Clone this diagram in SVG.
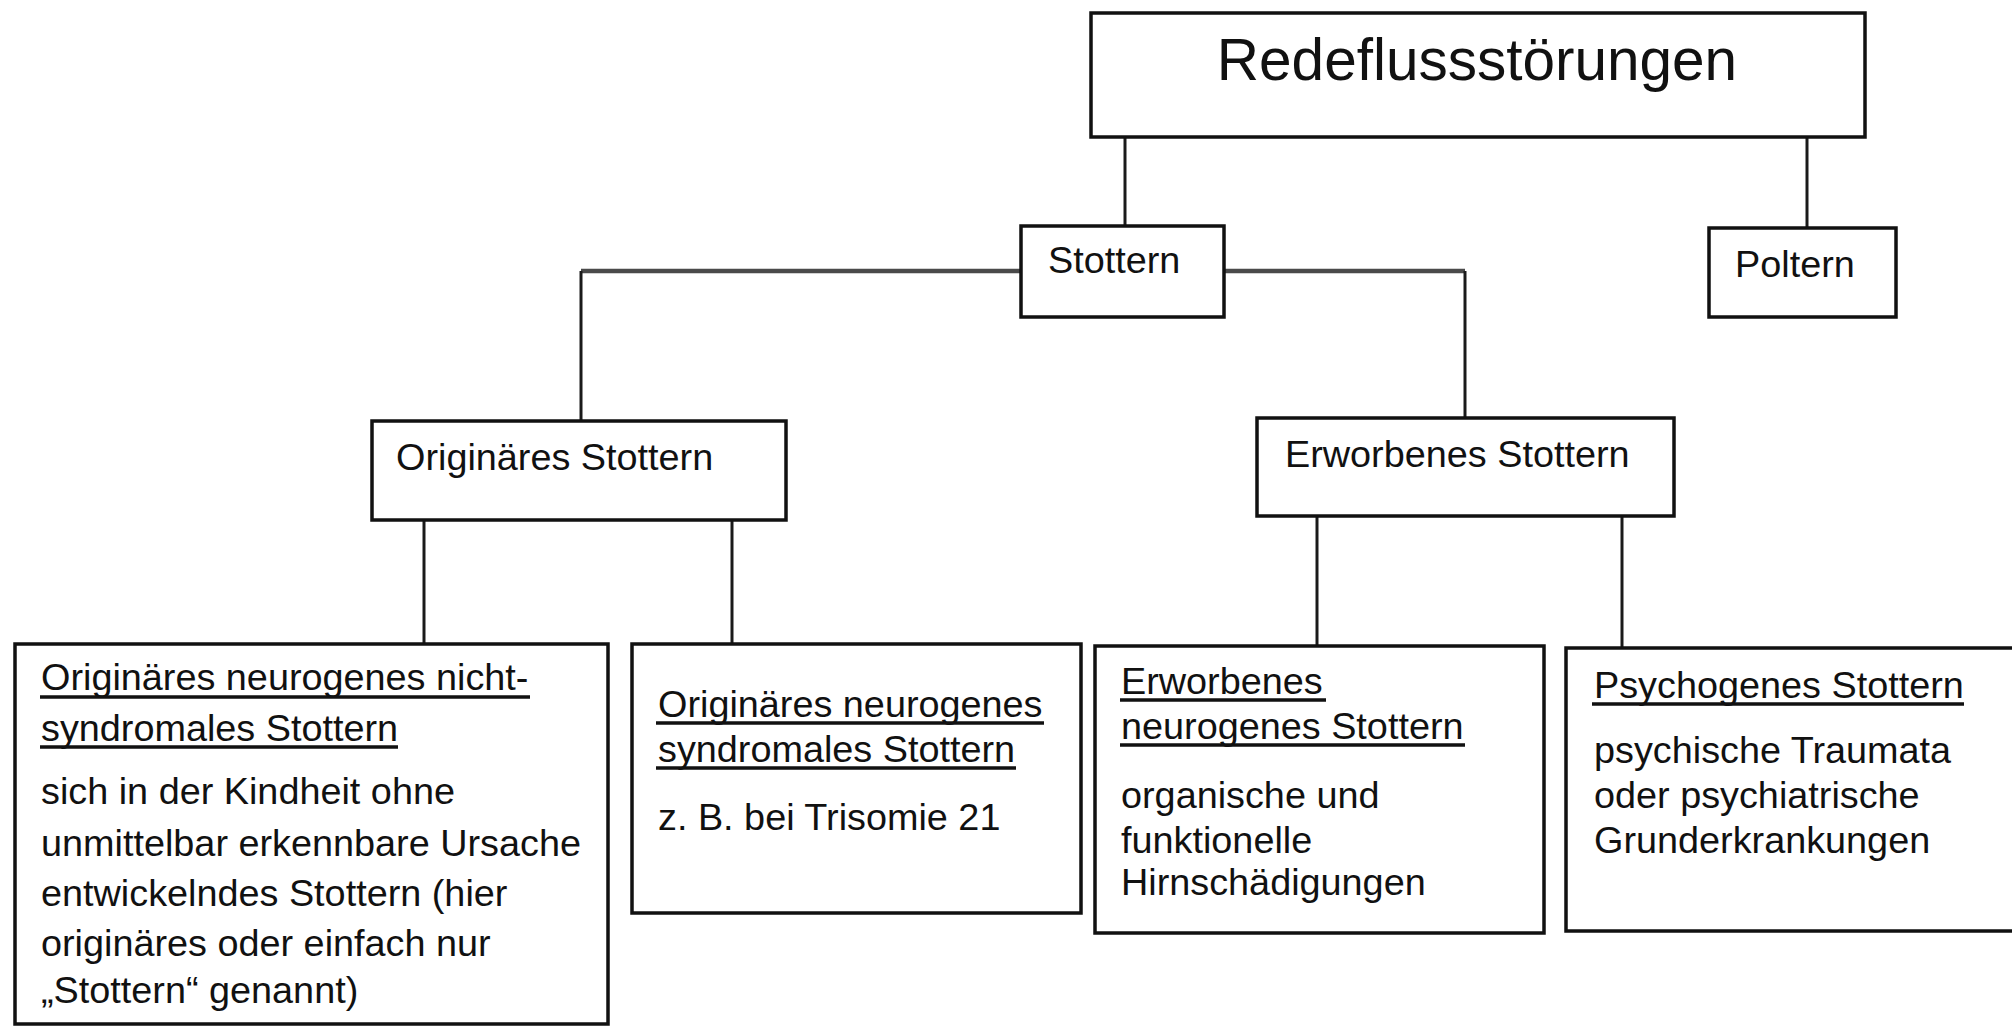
<svg xmlns="http://www.w3.org/2000/svg" width="2012" height="1026" viewBox="0 0 2012 1026">
<style>
.box{fill:#fff;stroke:#111;stroke-width:3.5}
.t{font-family:"Liberation Sans",Arial,sans-serif;font-size:37.8px;fill:#111}
.big{font-size:58.5px}
.ul{stroke:#111;stroke-width:3.5}
.c{fill:none;stroke:#1a1a1a;stroke-width:3}
.h{fill:none;stroke:#4a4a4a;stroke-width:4.5}
</style>
<rect width="2012" height="1026" fill="#fff"/>
<g id="connectors">
<line class="c" x1="1125" y1="137" x2="1125" y2="226"/>
<line class="c" x1="1807" y1="137" x2="1807" y2="228"/>
<line class="h" x1="1021" y1="271" x2="581" y2="271"/>
<line class="c" x1="581" y1="271" x2="581" y2="421"/>
<line class="h" x1="1224" y1="271" x2="1465" y2="271"/>
<line class="c" x1="1465" y1="271" x2="1465" y2="418"/>
<line class="c" x1="424" y1="520" x2="424" y2="644"/>
<line class="c" x1="732" y1="520" x2="732" y2="644"/>
<line class="c" x1="1317" y1="516" x2="1317" y2="646"/>
<line class="c" x1="1622" y1="516" x2="1622" y2="648"/>
</g>
<g id="root">
<rect class="box" x="1091" y="13" width="774" height="124"/>
<text class="t big" x="1477" y="80" text-anchor="middle">Redeflussstörungen</text>
</g>
<g id="stottern">
<rect class="box" x="1021" y="226" width="203" height="91"/>
<text class="t" x="1048" y="273">Stottern</text>
</g>
<g id="poltern">
<rect class="box" x="1709" y="228" width="187" height="89"/>
<text class="t" x="1735" y="277">Poltern</text>
</g>
<g id="originaeres">
<rect class="box" x="372" y="421" width="414" height="99"/>
<text class="t" x="396" y="470">Originäres Stottern</text>
</g>
<g id="erworbenes">
<rect class="box" x="1257" y="418" width="417" height="98"/>
<text class="t" x="1285" y="467">Erworbenes Stottern</text>
</g>
<g id="nichtsyndromal">
<rect class="box" x="15" y="644" width="593" height="380"/>
<text class="t" x="41" y="690">Originäres neurogenes nicht-</text>
<line class="ul" x1="40" y1="697" x2="530" y2="697"/>
<text class="t" x="41" y="741">syndromales Stottern</text>
<line class="ul" x1="40" y1="747" x2="398" y2="747"/>
<text class="t" x="41" y="804">sich in der Kindheit ohne</text>
<text class="t" x="41" y="856">unmittelbar erkennbare Ursache</text>
<text class="t" x="41" y="906">entwickelndes Stottern (hier</text>
<text class="t" x="41" y="956">originäres oder einfach nur</text>
<text class="t" x="41" y="1003">„Stottern“ genannt)</text>
</g>
<g id="syndromal">
<rect class="box" x="632" y="644" width="449" height="269"/>
<text class="t" x="658" y="717">Originäres neurogenes</text>
<line class="ul" x1="656" y1="723" x2="1044" y2="723"/>
<text class="t" x="658" y="762">syndromales Stottern</text>
<line class="ul" x1="656" y1="768" x2="1016" y2="768"/>
<text class="t" x="658" y="830">z. B. bei Trisomie 21</text>
</g>
<g id="erworben-neurogen">
<rect class="box" x="1095" y="646" width="449" height="287"/>
<text class="t" x="1121" y="694">Erworbenes</text>
<line class="ul" x1="1120" y1="700" x2="1326" y2="700"/>
<text class="t" x="1121" y="739">neurogenes Stottern</text>
<line class="ul" x1="1120" y1="745" x2="1465" y2="745"/>
<text class="t" x="1121" y="808">organische und</text>
<text class="t" x="1121" y="853">funktionelle</text>
<text class="t" x="1121" y="895">Hirnschädigungen</text>
</g>
<g id="psychogen">
<rect class="box" x="1566" y="648" width="460" height="283"/>
<text class="t" x="1594" y="698">Psychogenes Stottern</text>
<line class="ul" x1="1592" y1="704" x2="1964" y2="704"/>
<text class="t" x="1594" y="763">psychische Traumata</text>
<text class="t" x="1594" y="808">oder psychiatrische</text>
<text class="t" x="1594" y="853">Grunderkrankungen</text>
</g>
</svg>
